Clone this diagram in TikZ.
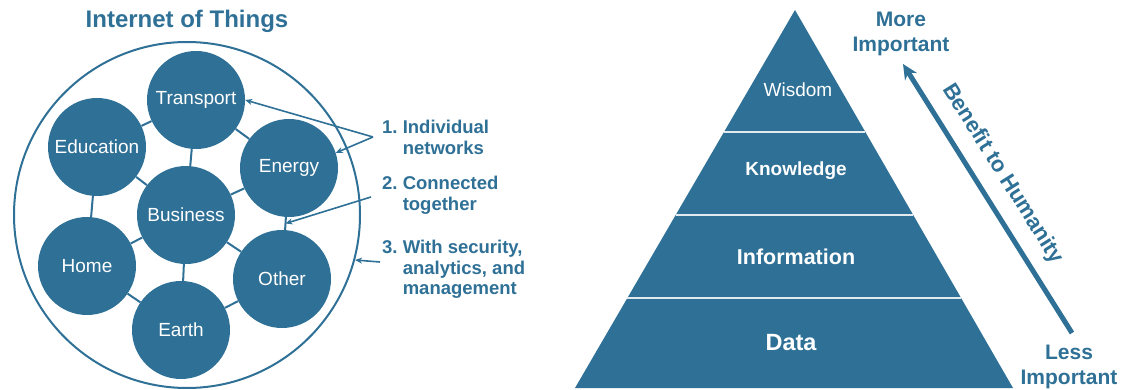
\documentclass[tikz,border=0pt]{standalone}
\usepackage{fontspec}
\setmainfont{Liberation Sans}
\usetikzlibrary{arrows.meta,calc}
\definecolor{iotblue}{RGB}{47,112,150}
\tikzset{
  thing/.style={circle,fill=iotblue,minimum size=98pt,inner sep=0pt,text=white,font=\fontsize{19}{21}\selectfont},
  link/.style={iotblue,line width=2pt},
  pointer/.style={iotblue,line width=1.6pt,-{Stealth[length=7pt,width=6pt]}},
  note/.style={text=iotblue,font=\bfseries\fontsize{18.5}{20.5}\selectfont,anchor=base west,inner sep=0pt},
  layer/.style={text=white,font=\bfseries\fontsize{#1}{#1}\selectfont},
  divider/.style={white!85!iotblue,line width=2.2pt},
  heading/.style={text=iotblue,font=\bfseries\fontsize{#1}{25}\selectfont,align=center},
}
\begin{document}
\begin{tikzpicture}[x=1pt,y=-1pt]
\useasboundingbox (0,0) rectangle (1125,390);
% internet of things
\node[heading=24] (title) at (187,21) {Internet of Things};
\node[circle,draw=iotblue,line width=2pt,minimum size=346pt,inner sep=0pt] (iot) at (187,215) {};
\node[thing] (trans) at (196,100) {Transport};
\node[thing] (edu) at (97,147) {Education};
\node[thing] (energy) at (289,168) {Energy};
\node[thing] (biz) at (186,215) {Business};
\node[thing] (home) at (87,266) {Home};
\node[thing] (other) at (282,279) {Other};
\node[thing] (earth) at (181,330) {Earth};
\foreach \a/\b in {trans/edu,trans/energy,trans/biz,edu/biz,edu/home,biz/energy,
  biz/home,biz/other,biz/earth,home/earth,earth/other}
  \draw[link] (\a) -- (\b);
\draw[link] (energy) -- coordinate (eo) (other);
% notes
\node[note] (n1) at (382,134) {\begin{tabular}[t]{@{}r@{\ }l@{}}1.&Individual\\&networks\end{tabular}};
\node[note] (n2) at (382,190) {\begin{tabular}[t]{@{}r@{\ }l@{}}2.&Connected\\&together\end{tabular}};
\node[note] (n3) at (382,254) {\begin{tabular}[t]{@{}r@{\ }l@{}}3.&With security,\\&analytics, and\\&management\end{tabular}};
\coordinate (a1) at (373,137);
\draw[pointer] (a1) -- (trans.east);
\draw[pointer] (a1) -- (energy.18);
\coordinate (a2) at (371,197);
\draw[pointer] (a2) -- (eo);
\coordinate (a3) at (380,262);
\draw[pointer] (a3) -- (iot.-15);
% pyramid
\coordinate (apex) at (795,10);
\coordinate (bl) at (575,388);
\coordinate (br) at (1013,388);
\fill[iotblue] (apex) -- (bl) -- (br) -- cycle;
\foreach \t in {0.3228,0.5423,0.7619}
  \draw[divider] ($(apex)!\t!(bl)$) -- ($(apex)!\t!(br)$);
\node[text=white,font=\fontsize{19}{21}\selectfont] (wisdom) at (798,90) {Wisdom};
\node[layer=19] (know) at (796,171) {Knowledge};
\node[layer=21.5] (info) at (796,257) {Information};
\node[layer=23.5] (data) at (791,343) {Data};
% benefit arrow
\coordinate (less) at (1072,333);
\coordinate (more) at (903,64);
\draw[iotblue,line width=5pt,-{Stealth[length=15pt,width=14pt]}] (less) --
  node[pos=.54,sloped,above=13pt,inner sep=0pt,text=iotblue,font=\bfseries\fontsize{22}{24}\selectfont] (benefit) {Benefit to Humanity} (more);
\node[heading=21] (moreimp) at (901,34) {More\\Important};
\node[heading=21] (lessimp) at (1069,367) {Less\\Important};
\end{tikzpicture}
\end{document}
